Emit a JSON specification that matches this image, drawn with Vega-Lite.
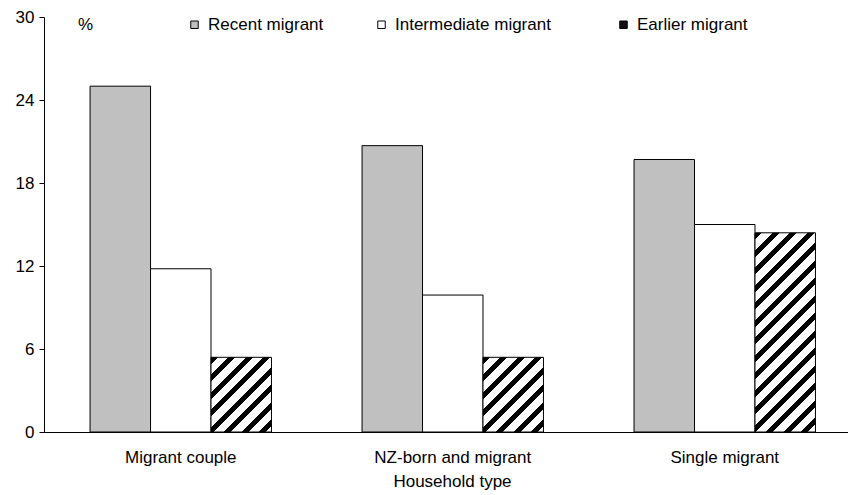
{
  "$schema": "https://vega.github.io/schema/vega-lite/v6.json",
  "autosize": "none",
  "width": 804,
  "height": 415,
  "padding": {"left": 44, "top": 17, "right": 0, "bottom": 63},
  "background": "white",
  "config": {
    "font": "Liberation Sans",
    "view": {"stroke": null},
    "axis": {"grid": false, "domainColor": "black", "tickColor": "black", "labelColor": "black", "titleColor": "black", "labelFontSize": 17, "titleFontSize": 17, "titleFontWeight": "normal"}
  },
  "data": {
    "values": [
      {"household": "Migrant couple", "type": "Recent migrant", "pct": 25.0},
      {"household": "Migrant couple", "type": "Intermediate migrant", "pct": 11.8},
      {"household": "Migrant couple", "type": "Earlier migrant", "pct": 5.4},
      {"household": "NZ-born and migrant", "type": "Recent migrant", "pct": 20.7},
      {"household": "NZ-born and migrant", "type": "Intermediate migrant", "pct": 9.9},
      {"household": "NZ-born and migrant", "type": "Earlier migrant", "pct": 5.4},
      {"household": "Single migrant", "type": "Recent migrant", "pct": 19.7},
      {"household": "Single migrant", "type": "Intermediate migrant", "pct": 15.0},
      {"household": "Single migrant", "type": "Earlier migrant", "pct": 14.4}
    ]
  },
  "mark": {"type": "bar", "stroke": "black", "strokeWidth": 1},
  "encoding": {
    "x": {
      "field": "household",
      "type": "nominal",
      "sort": ["Migrant couple", "NZ-born and migrant", "Single migrant"],
      "scale": {"paddingInner": 0.333, "paddingOuter": 0.1445, "align": 0.586},
      "axis": {
        "title": "Household type",
        "labelAngle": 0,
        "ticks": false,
        "tickSize": 0,
        "labelPadding": 30,
        "labelBaseline": "alphabetic",
        "domainWidth": 1,
        "titleX": 408,
        "titleY": 54,
        "titleBaseline": "alphabetic",
        "titleAlign": "center"
      }
    },
    "xOffset": {
      "field": "type",
      "type": "nominal",
      "sort": ["Recent migrant", "Intermediate migrant", "Earlier migrant"],
      "scale": {"paddingInner": 0, "paddingOuter": 0}
    },
    "y": {
      "field": "pct",
      "type": "quantitative",
      "scale": {"domain": [0, 30], "nice": false},
      "axis": {
        "title": "%",
        "values": [0, 6, 12, 18, 24, 30],
        "tickSize": 5,
        "labelPadding": 5,
        "titleAngle": 0,
        "titleX": 41,
        "titleY": 7,
        "titleAlign": "center",
        "titleBaseline": "middle"
      }
    },
    "fill": {
      "field": "type",
      "type": "nominal",
      "sort": ["Recent migrant", "Intermediate migrant", "Earlier migrant"],
      "scale": {
        "domain": ["Recent migrant", "Intermediate migrant", "Earlier migrant"],
        "range": ["#c0c0c0", "#ffffff", "#111111"]
      },
      "condition": [
        {
          "test": "datum.type === 'Earlier migrant' && datum.household === 'Single migrant'",
          "value": {
            "gradient": "linear", "x1": 0, "y1": 0, "x2": 0.3625, "y2": 1.1936,
            "stops": [
              {"offset": 0, "color": "black"}, {"offset": 0.02695, "color": "black"}, {"offset": 0.02695, "color": "white"}, {"offset": 0.06739, "color": "white"},
              {"offset": 0.06739, "color": "black"}, {"offset": 0.09434, "color": "black"}, {"offset": 0.09434, "color": "white"}, {"offset": 0.13477, "color": "white"},
              {"offset": 0.13477, "color": "black"}, {"offset": 0.16172, "color": "black"}, {"offset": 0.16172, "color": "white"}, {"offset": 0.20216, "color": "white"},
              {"offset": 0.20216, "color": "black"}, {"offset": 0.22911, "color": "black"}, {"offset": 0.22911, "color": "white"}, {"offset": 0.26954, "color": "white"},
              {"offset": 0.26954, "color": "black"}, {"offset": 0.29650, "color": "black"}, {"offset": 0.29650, "color": "white"}, {"offset": 0.33693, "color": "white"},
              {"offset": 0.33693, "color": "black"}, {"offset": 0.36388, "color": "black"}, {"offset": 0.36388, "color": "white"}, {"offset": 0.40431, "color": "white"},
              {"offset": 0.40431, "color": "black"}, {"offset": 0.43127, "color": "black"}, {"offset": 0.43127, "color": "white"}, {"offset": 0.47170, "color": "white"},
              {"offset": 0.47170, "color": "black"}, {"offset": 0.49865, "color": "black"}, {"offset": 0.49865, "color": "white"}, {"offset": 0.53908, "color": "white"},
              {"offset": 0.53908, "color": "black"}, {"offset": 0.56604, "color": "black"}, {"offset": 0.56604, "color": "white"}, {"offset": 0.60647, "color": "white"},
              {"offset": 0.60647, "color": "black"}, {"offset": 0.63342, "color": "black"}, {"offset": 0.63342, "color": "white"}, {"offset": 0.67385, "color": "white"},
              {"offset": 0.67385, "color": "black"}, {"offset": 0.70081, "color": "black"}, {"offset": 0.70081, "color": "white"}, {"offset": 0.74124, "color": "white"},
              {"offset": 0.74124, "color": "black"}, {"offset": 0.76819, "color": "black"}, {"offset": 0.76819, "color": "white"}, {"offset": 0.80863, "color": "white"},
              {"offset": 0.80863, "color": "black"}, {"offset": 0.83558, "color": "black"}, {"offset": 0.83558, "color": "white"}, {"offset": 0.87601, "color": "white"},
              {"offset": 0.87601, "color": "black"}, {"offset": 0.90296, "color": "black"}, {"offset": 0.90296, "color": "white"}, {"offset": 0.94340, "color": "white"},
              {"offset": 0.94340, "color": "black"}, {"offset": 0.97035, "color": "black"}, {"offset": 0.97035, "color": "white"}, {"offset": 1, "color": "white"}
            ]
          }
        },
        {
          "test": "datum.type === 'Earlier migrant'",
          "value": {
            "gradient": "linear", "x1": 0, "y1": 0, "x2": 0.885, "y2": 1.093,
            "stops": [
              {"offset": 0, "color": "black"}, {"offset": 0.0517, "color": "black"}, {"offset": 0.0517, "color": "white"}, {"offset": 0.1294, "color": "white"},
              {"offset": 0.1294, "color": "black"}, {"offset": 0.1811, "color": "black"}, {"offset": 0.1811, "color": "white"}, {"offset": 0.2587, "color": "white"},
              {"offset": 0.2587, "color": "black"}, {"offset": 0.3105, "color": "black"}, {"offset": 0.3105, "color": "white"}, {"offset": 0.3881, "color": "white"},
              {"offset": 0.3881, "color": "black"}, {"offset": 0.4399, "color": "black"}, {"offset": 0.4399, "color": "white"}, {"offset": 0.5175, "color": "white"},
              {"offset": 0.5175, "color": "black"}, {"offset": 0.5692, "color": "black"}, {"offset": 0.5692, "color": "white"}, {"offset": 0.6468, "color": "white"},
              {"offset": 0.6468, "color": "black"}, {"offset": 0.6986, "color": "black"}, {"offset": 0.6986, "color": "white"}, {"offset": 0.7762, "color": "white"},
              {"offset": 0.7762, "color": "black"}, {"offset": 0.8280, "color": "black"}, {"offset": 0.8280, "color": "white"}, {"offset": 0.9056, "color": "white"},
              {"offset": 0.9056, "color": "black"}, {"offset": 0.9574, "color": "black"}, {"offset": 0.9574, "color": "white"}, {"offset": 1, "color": "white"}
            ]
          }
        }
      ],
      "legend": {
        "orient": "none",
        "legendX": 142,
        "legendY": -1,
        "direction": "horizontal",
        "title": null,
        "padding": 0,
        "symbolType": "square",
        "symbolSize": 56,
        "symbolStrokeColor": "black",
        "symbolStrokeWidth": 1,
        "symbolOpacity": 1,
        "labelFontSize": 17,
        "labelColor": "black",
        "labelOffset": 5,
        "labelLimit": 300,
        "columnPadding": 49,
        "labelExpr": "datum.label === 'Intermediate migrant' ? datum.label + '\u00a0\u00a0\u00a0\u200b' : datum.label",
        "encode": {
          "symbols": {
            "update": {
              "stroke": {"value": "black"},
              "strokeWidth": {"value": 1},
              "fill": [
                {
                  "test": "datum.value === 'Earlier migrant'",
                  "value": {"gradient": "linear", "x1": 0, "y1": 1, "x2": 1, "y2": 0, "stops": [{"offset": 0, "color": "black"}, {"offset": 0.42, "color": "black"}, {"offset": 0.42, "color": "white"}, {"offset": 0.58, "color": "white"}, {"offset": 0.58, "color": "black"}, {"offset": 1, "color": "black"}]}
                },
                {"scale": "fill", "field": "value"}
              ]
            }
          }
        }
      }
    }
  }
}
